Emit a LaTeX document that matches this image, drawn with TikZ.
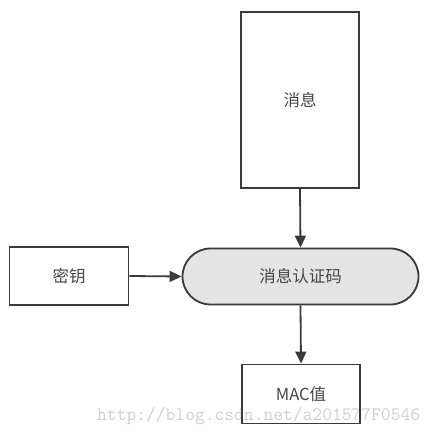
\documentclass[tikz,border=0pt]{standalone}
\usepackage{fontspec}
\setmainfont{Noto Sans CJK SC}
\usetikzlibrary{arrows.meta,shapes.misc}
\definecolor{linec}{HTML}{3A3A3A}
\definecolor{textc}{HTML}{454545}
\definecolor{pillfill}{HTML}{E4E4E4}
\definecolor{wmc}{HTML}{CFCFCF}
\tikzset{
  x=1pt,y=-1pt,
  boxnode/.style={draw=linec,line width=1.8pt,inner sep=0pt,text=textc,font=\fontsize{16.5}{19}\selectfont},
  pillnode/.style={draw=linec,line width=1.8pt,fill=pillfill,rounded rectangle,inner sep=0pt,text=textc,font=\fontsize{16.5}{19}\selectfont},
  arr/.style={draw=linec,line width=1.8pt,-{Triangle[length=12pt,width=11pt]}},
  wmnode/.style={text=wmc,font=\ttfamily\fontsize{19}{20}\selectfont,inner sep=0pt,anchor=base west}
}
\begin{document}
\begin{tikzpicture}
\useasboundingbox (0,0) rectangle (439,435);
\node[wmnode] (wm) at (97,420.5) {http://blog.csdn.net/a201577F0546};
\node[boxnode,minimum width=118pt,minimum height=176pt] (msg) at (300,100) {消息};
\node[boxnode,minimum width=119pt,minimum height=58pt] (key) at (69,276) {密钥};
\node[pillnode,minimum width=236pt,minimum height=56pt] (mac) at (300.5,276.5) {消息认证码};
\node[boxnode,minimum width=118pt,minimum height=59pt] (val) at (301,394) {MAC值};
\draw[arr] (msg.south) -- (mac.north);
\draw[arr] (key.east) -- (mac.west);
\draw[arr] (mac.south) -- (val.north);
\end{tikzpicture}
\end{document}
